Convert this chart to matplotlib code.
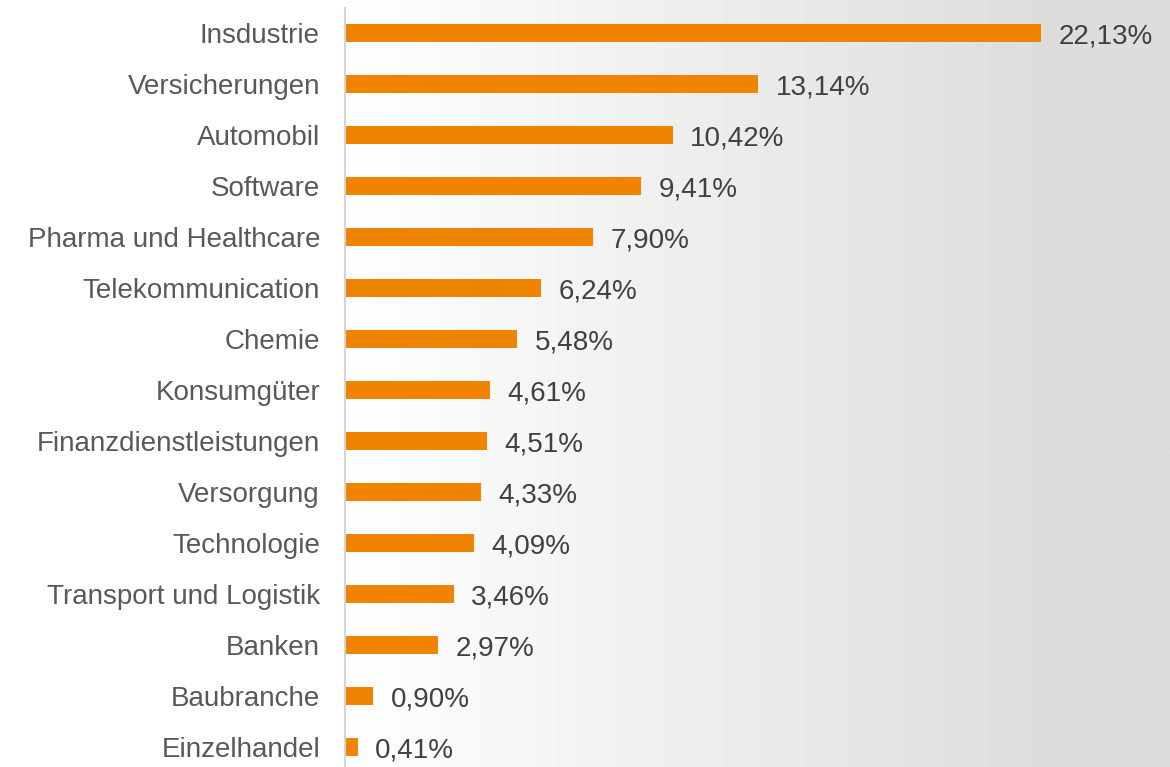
import matplotlib
matplotlib.use("Agg")
import matplotlib.pyplot as plt
import numpy as np

# data
branchen = ["Insdustrie", "Versicherungen", "Automobil", "Software",
            "Pharma und Healthcare", "Telekommunication", "Chemie",
            "Konsumgüter", "Finanzdienstleistungen", "Versorgung",
            "Technologie", "Transport und Logistik", "Banken",
            "Baubranche", "Einzelhandel"]
anteile = [22.13, 13.14, 10.42, 9.41, 7.90, 6.24, 5.48, 4.61, 4.51,
           4.33, 4.09, 3.46, 2.97, 0.90, 0.41]

plt.rcParams["font.family"] = ["Liberation Sans", "DejaVu Sans"]

fig = plt.figure(figsize=(11.7, 7.67), dpi=100)

# background gradient (white left -> light gray right)
bg = fig.add_axes([0, 0, 1, 1], zorder=0)
xs = np.linspace(0, 1, 512)
g = np.clip((xs - 0.3) / 0.6, 0, 1)
c0 = np.array([1.0, 1.0, 1.0])
c1 = np.array([0xde, 0xdd, 0xdc]) / 255
img = (c0[None, :] * (1 - g[:, None]) + c1[None, :] * g[:, None])[None, :, :]
bg.imshow(img, aspect="auto", extent=[0, 1, 0, 1])
bg.axis("off")

ax = fig.add_axes([345 / 1170, 0, 1 - 345 / 1170, 1 - 8 / 767], zorder=1)
ax.patch.set_alpha(0)

y = np.arange(len(branchen))
ax.barh(y, anteile, height=0.35, color="#f08300")
for yi, v in zip(y, anteile):
    ax.text(v + 0.55, yi + 0.06, f"{v:.2f}%".replace(".", ","),
            va="center", ha="left", fontsize=20, color="#404040")

ax.set_xlim(0, 26.23)
ax.set_ylim(14.39, -0.49)
ax.set_yticks(y)
ax.set_yticklabels(branchen, fontsize=20, color="#595959")
ax.tick_params(axis="y", length=0, pad=18)
ax.set_xticks([])
for s in ["top", "right", "bottom"]:
    ax.spines[s].set_visible(False)
ax.spines["left"].set_color("#d4d4d4")
ax.spines["left"].set_linewidth(1.5)

fig.savefig("out.png", dpi=100)
